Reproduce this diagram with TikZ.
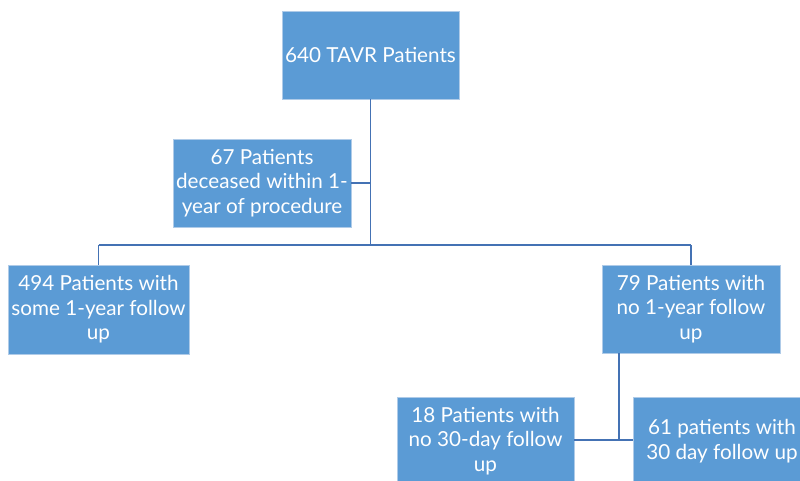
\documentclass[tikz,border=0pt]{standalone}
\usepackage{fontspec}
\setmainfont{Lato}
\definecolor{boxfill}{RGB}{91,155,213}
\definecolor{boxedge}{RGB}{175,203,232}
\definecolor{linec}{RGB}{68,114,180}
\begin{document}
\begin{tikzpicture}[x=0.75pt,y=-0.75pt,
  fbox/.style={rectangle, fill=boxfill, draw=boxedge, line width=0.6pt,
    text=white, align=center, inner sep=0pt,
    font=\fontsize{15.5}{18.3}\selectfont},
  conn/.style={draw=linec, line width=0.9pt}]
\useasboundingbox (0,0) rectangle (800,480);
\clip (0,0) rectangle (800,480);
\fill[white] (0,0) rectangle (800,480);
\node[fbox, minimum width=177*0.75pt, minimum height=88*0.75pt] (top) at (370.5,55) {640 TAVR Patients};
\node[fbox, minimum width=178*0.75pt, minimum height=88*0.75pt] (dec) at (262,183) {67 Patients\\deceased within 1-\\year of procedure};
\node[fbox, minimum width=181*0.75pt, minimum height=89*0.75pt] (left) at (98.5,309.5) {494 Patients with\\some 1-year follow\\up};
\node[fbox, minimum width=178*0.75pt, minimum height=88*0.75pt] (right) at (691,309) {79 Patients with\\no 1-year follow\\up};
\node[fbox, minimum width=177*0.75pt, minimum height=88*0.75pt] (no30) at (485.5,441) {18 Patients with\\no 30-day follow\\up};
\node[fbox, minimum width=178*0.75pt, minimum height=88*0.75pt] (d30) at (722,441) {61 patients with\\30 day follow up};
\coordinate (split) at (370.5,245);
\coordinate (lsplit) at (98.5,245);
\coordinate (rsplit) at (691,245);
\coordinate (rdrop) at (619,309);
\coordinate (junc) at (619,440);
\draw[conn] (top.south) -- (split);
\draw[conn] (dec.east) -- (dec.east -| split);
\draw[conn] (lsplit) -- (rsplit);
\draw[conn] (lsplit) -- (left.north);
\draw[conn] (rsplit) -- (right.north);
\draw[conn] (rdrop |- right.south) -- (junc);
\draw[conn] (no30.east |- junc) -- (d30.west |- junc);
\end{tikzpicture}
\end{document}
